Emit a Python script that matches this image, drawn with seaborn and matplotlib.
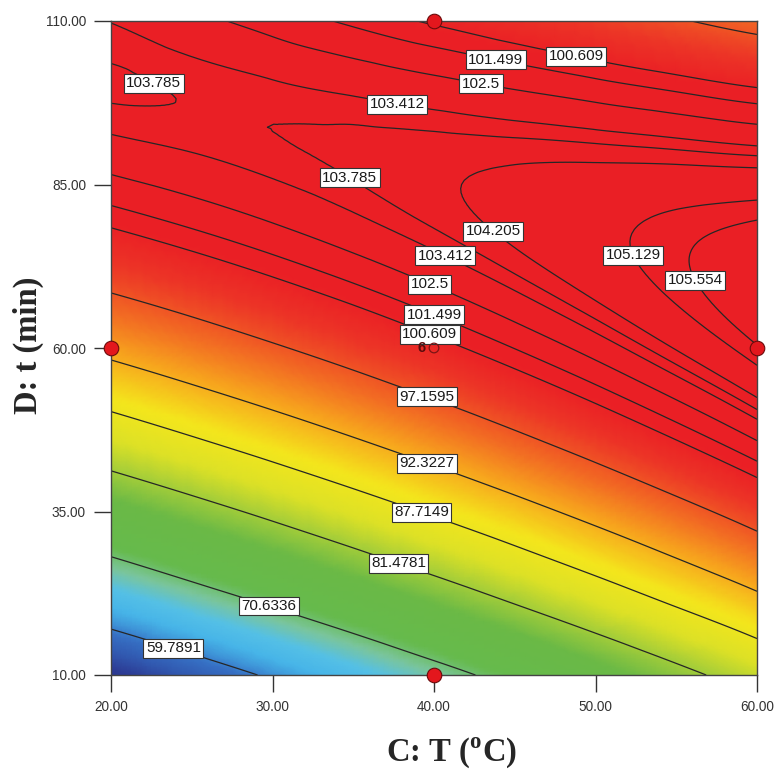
import numpy as np
import matplotlib
matplotlib.use("Agg")
import matplotlib.pyplot as plt
import matplotlib.tri as mtri
from matplotlib.colors import LinearSegmentedColormap
import seaborn as sns

# ---------------- data ----------------
temperature = [20, 25, 30, 35, 40, 45, 50, 55, 60]          # C: T (oC)
time_min = [10, 20, 30, 40, 50, 60, 70, 80, 90, 100, 110]   # D: t (min)

# response at each time (10..110 min), one list per temperature
y_T20 = [52.18, 62.88, 72.34, 80.56, 87.54, 93.28, 97.79, 101.05, 103.07, 103.85, 103.39]
y_T25 = [56.41, 66.63, 75.60, 83.34, 89.84, 95.09, 99.11, 101.89, 103.42, 103.72, 102.78]
y_T30 = [60.57, 70.30, 78.79, 86.04, 92.05, 96.83, 100.36, 102.65, 103.70, 103.51, 102.08]
y_T35 = [64.65, 73.89, 81.90, 88.66, 94.19, 98.47, 101.52, 103.33, 103.89, 103.22, 101.30]
y_T40 = [68.64, 77.40, 84.92, 91.20, 96.24, 100.04, 102.60, 103.92, 104.00, 102.84, 100.44]
y_T45 = [72.55, 80.83, 87.86, 93.66, 98.21, 101.53, 103.60, 104.44, 104.03, 102.39, 99.51]
y_T50 = [76.38, 84.17, 90.72, 96.03, 100.10, 102.93, 104.52, 104.87, 103.98, 101.85, 98.48]
y_T55 = [80.13, 87.44, 93.50, 98.33, 101.91, 104.26, 105.36, 105.23, 103.85, 101.23, 97.38]
y_T60 = [83.80, 90.62, 96.20, 100.54, 103.64, 105.50, 106.12, 105.50, 103.64, 100.54, 96.20]

contour_levels = [59.7891, 70.6336, 81.4781, 87.7149, 92.3227, 97.1595, 100.609,
                  101.499, 102.5, 103.412, 103.785, 104.205, 105.129, 105.554]
contour_texts = ["59.7891", "70.6336", "81.4781", "87.7149", "92.3227", "97.1595", "100.609",
                 "101.499", "102.5", "103.412", "103.785", "104.205", "105.129", "105.554"]

# which contour each label belongs to
label_levels = [103.785, 101.499, 100.609, 102.5, 103.412, 103.785, 104.205, 103.412,
                102.5, 101.499, 100.609, 97.1595, 92.3227, 87.7149, 81.4781, 70.6336,
                59.7891, 105.129, 105.554]

design_T = [20, 40, 60, 40]
design_t = [60, 110, 60, 10]
center_T = [40]
center_t = [60]
center_n = ["6"]

xticks = [20, 30, 40, 50, 60]
yticks = [10, 35, 60, 85, 110]

# ---------------- layout / style ----------------
label_anchor = [(22.9, 101.4), (43.9, 105.1), (48.9, 105.7), (43.0, 101.6), (37.8, 98.4),
                (35.0, 86.9), (43.8, 78.2), (40.9, 75.1), (39.9, 70.7), (40.2, 66.3),
                (39.9, 63.2), (39.75, 53.9), (39.75, 43.6), (39.45, 36.5), (38.0, 28.5),
                (29.9, 21.5), (24.1, 16.0), (52.1, 73.9), (56.0, 70.1)]

color_stops = [(50, '#29318a'), (53, '#2c3a93'), (56, '#3159b0'), (59, '#3670c4'),
               (61, '#3f98da'), (63, '#47b5e8'), (66, '#55c0e6'), (69, '#7bc59c'),
               (72, '#66ba4c'), (78, '#6ab946'), (82, '#a9cf38'), (85, '#dde126'),
               (89, '#f4e61c'), (93, '#f7a51d'), (96, '#f26b23'), (99, '#ec3426'),
               (101, '#ea1f25'), (107, '#ea1f25')]

sns.set_theme(style="ticks")
plt.rcParams['font.family'] = ['Liberation Sans', 'DejaVu Sans']
plt.rcParams['mathtext.fontset'] = 'custom'
plt.rcParams['mathtext.bf'] = 'Liberation Serif:bold'
plt.rcParams['mathtext.rm'] = 'Liberation Serif:bold'

fig = plt.figure(figsize=(7.75, 7.74), dpi=100)
ax = fig.add_axes([111 / 775, 1 - 675 / 774, 646 / 775, 654 / 774])

Z = np.column_stack([y_T20, y_T25, y_T30, y_T35, y_T40, y_T45, y_T50, y_T55, y_T60])
TT, tt = np.meshgrid(temperature, time_min)
tri = mtri.Triangulation(TT.ravel(), tt.ravel())
tri_f, z_f = mtri.UniformTriRefiner(tri).refine_field(Z.ravel(), subdiv=4)

vmin, vmax = color_stops[0][0], color_stops[-1][0]
cmap = LinearSegmentedColormap.from_list(
    'designexpert', [((v - vmin) / (vmax - vmin), c) for v, c in color_stops])

ax.tripcolor(tri_f, z_f, shading='gouraud', cmap=cmap, vmin=vmin, vmax=vmax, rasterized=True)

# one contour set per level so each label can be attached to its own level
level_sets = {}
for lev in contour_levels:
    level_sets[lev] = ax.tricontour(tri_f, z_f, levels=[lev], colors='#262626',
                                    linewidths=0.9)

fmt = dict(zip(contour_levels, contour_texts))
for lev, pos in zip(label_levels, label_anchor):
    txts = level_sets[lev].clabel(manual=[pos], inline=False, fmt=fmt,
                                  fontsize=11, colors='#1a1a1a')
    t = txts[-1]
    t.set_rotation(0)
    t.set_zorder(6)
    t.set_bbox(dict(boxstyle='square,pad=0.16', fc='white', ec='#333333', lw=0.8))

sns.scatterplot(x=design_T, y=design_t, ax=ax, s=110, color='#e3171d',
                edgecolor='#6b0b0b', linewidth=0.8, clip_on=False, zorder=10, legend=False)
ax.scatter(center_T, center_t, s=48, facecolors='none', edgecolors='#7a1414',
           linewidths=0.9, zorder=10)
for cx, cy, n in zip(center_T, center_t, center_n):
    ax.annotate(n, (cx, cy), xytext=(-6, 0), textcoords='offset points', ha='right',
                va='center', fontsize=10.5, fontweight='bold', color='#5a0c0c', zorder=10)

ax.set_xlim(min(temperature), max(temperature))
ax.set_ylim(min(time_min), max(time_min))
ax.set_xticks(xticks)
ax.set_xticklabels([f'{v:.2f}' for v in xticks])
ax.set_yticks(yticks)
ax.set_yticklabels([f'{v:.2f}' for v in yticks])
ax.tick_params(direction='out', length=12, width=1.0, color='#333333',
               labelsize=9.8, labelcolor='#333333', pad=6)
for sp in ax.spines.values():
    sp.set_color('#444444')
    sp.set_linewidth(1.0)

ax.set_xlabel(r'C: T ($^{\mathbf{o}}$C)', fontsize=23.5, fontweight='bold',
              family='Liberation Serif')
ax.xaxis.set_label_coords((451 - 111) / 646, -(753 - 675) / 654)
ax.xaxis.label.set_va('center')
ax.set_ylabel('D: t (min)', fontsize=23.5, fontweight='bold', family='Liberation Serif')
ax.yaxis.set_label_coords((28 - 111) / 646, (675 - 345) / 654)
ax.yaxis.label.set_va('center')

fig.savefig('out.png', dpi=100)
